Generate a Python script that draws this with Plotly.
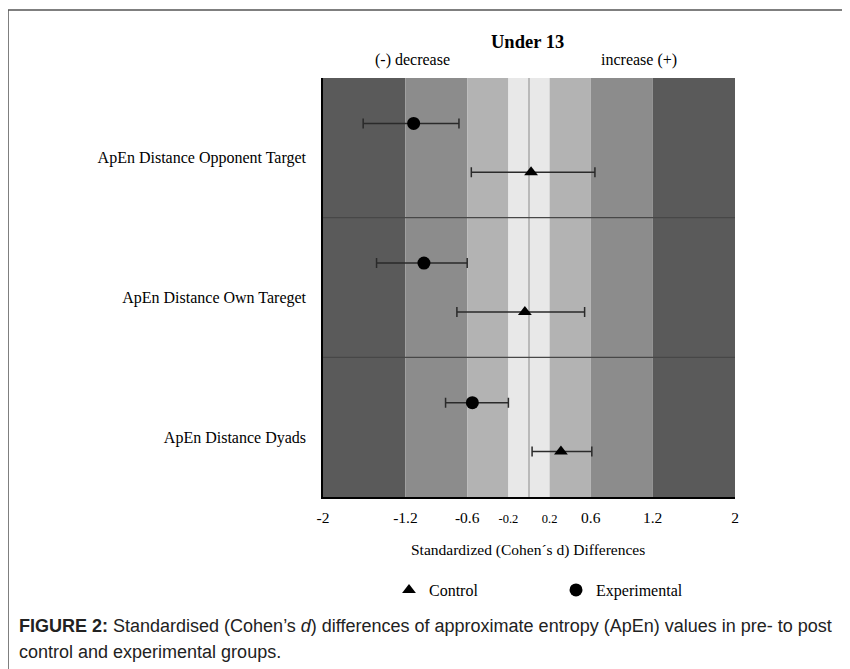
import plotly.graph_objects as go

# outcome rows (top to bottom)
outcomes = ["ApEn Distance Opponent Target", "ApEn Distance Own Tareget", "ApEn Distance Dyads"]

# Cohen's d with lower / upper limits
exp_d = [-1.12, -1.02, -0.55]
exp_lo = [-1.61, -1.48, -0.81]
exp_hi = [-0.68, -0.60, -0.20]

ctrl_d = [0.02, -0.04, 0.31]
ctrl_lo = [-0.56, -0.70, 0.03]
ctrl_hi = [0.64, 0.54, 0.61]

# effect size zones
zone_edges = [-2, -1.2, -0.6, -0.2, 0.2, 0.6, 1.2, 2]
zone_colors = ["#5a5a5a", "#8c8c8c", "#b3b3b3", "#e8e8e8", "#b3b3b3", "#8c8c8c", "#5a5a5a"]
tick_vals = [-2, -1.2, -0.6, -0.2, 0.2, 0.6, 1.2, 2]

SERIF = "Liberation Serif, Times New Roman, serif"
SANS = "Liberation Sans, Arial, sans-serif"

rows = list(range(len(outcomes)))
off = 0.175

# page is drawn with an 8px body offset; plot area spans x 323-735, y 78-497 on screen
L, T, PW, PH = 315, 70, 412, 419


def px(x):
    return (x - 323) / PW


def py(y):
    return (497 - y) / PH


fig = go.Figure()

fig.add_trace(go.Scatter(
    x=ctrl_d, y=[r + off for r in rows], mode="markers", name="Control",
    marker=dict(symbol="triangle-up", size=12, color="black"),
    error_x=dict(type="data", symmetric=False,
                 array=[h - d for h, d in zip(ctrl_hi, ctrl_d)],
                 arrayminus=[d - l for d, l in zip(ctrl_d, ctrl_lo)],
                 color="#2a2a2a", thickness=1.5, width=5),
))
fig.add_trace(go.Scatter(
    x=exp_d, y=[r - off for r in rows], mode="markers", name="Experimental",
    marker=dict(symbol="circle", size=13, color="black"),
    error_x=dict(type="data", symmetric=False,
                 array=[h - d for h, d in zip(exp_hi, exp_d)],
                 arrayminus=[d - l for d, l in zip(exp_d, exp_lo)],
                 color="#2a2a2a", thickness=1.5, width=5),
))

shapes = []
for i, c in enumerate(zone_colors):
    shapes.append(dict(type="rect", xref="x", yref="paper", x0=zone_edges[i], x1=zone_edges[i + 1],
                       y0=0, y1=1, fillcolor=c, line=dict(width=0), layer="below"))
shapes.append(dict(type="line", xref="x", yref="paper", x0=0, x1=0, y0=0, y1=1,
                   line=dict(color="#8a8a8a", width=1), layer="below"))
for b in [0.5, 1.5]:
    shapes.append(dict(type="line", xref="paper", yref="y", x0=0, x1=1, y0=b, y1=b,
                       line=dict(color="#474747", width=1.2), layer="below"))
# outer figure frame (open to the right and bottom)
shapes.append(dict(type="rect", xref="paper", yref="paper", x0=px(8), x1=px(870), y0=py(10), y1=py(690),
                   line=dict(color="#555555", width=1.5)))

tick_text = []
for v in tick_vals:
    s = f"{v:g}"
    if abs(v) == 0.2:
        tick_text.append(f"<span style='font-size:12.5px'>{s}</span>")
    else:
        tick_text.append(s)

annotations = [
    dict(text="<b>Under 13</b>", x=px(527), y=py(42), yanchor="middle",
         font=dict(family=SERIF, size=18.5, color="black")),
    dict(text="(-) decrease", x=px(373), y=py(60), yanchor="middle",
         font=dict(family=SERIF, size=16, color="black")),
    dict(text="increase (+)", x=px(679), y=py(60), yanchor="middle",
         font=dict(family=SERIF, size=16, color="black")),
    dict(text="Standardized (Cohen´s d) Differences", x=px(528), y=py(550), yanchor="middle",
         font=dict(family=SERIF, size=15.5, color="black")),
    dict(text="<b>FIGURE 2:</b> Standardised (Cohen’s <i>d</i>) differences of approximate entropy (ApEn) values in pre- to post",
         x=px(17), y=py(626), xanchor="left", yanchor="middle",
         font=dict(family=SANS, size=18, color="#222222")),
    dict(text="control and experimental groups.",
         x=px(17), y=py(652), xanchor="left", yanchor="middle",
         font=dict(family=SANS, size=18, color="#222222")),
]
for a in annotations:
    a.update(xref="paper", yref="paper", showarrow=False)

fig.update_layout(
    width=850, height=669,
    margin=dict(l=L, r=850 - L - PW, t=T, b=669 - T - PH),
    paper_bgcolor="white", plot_bgcolor="white",
    font=dict(family=SERIF, color="black"),
    shapes=shapes,
    annotations=annotations,
    showlegend=True,
    legend=dict(orientation="h", x=px(389), xanchor="left", y=py(590), yanchor="middle",
                font=dict(family=SERIF, size=16, color="black"), entrywidth=122, entrywidthmode="pixels",
                bgcolor="rgba(0,0,0,0)"),
    xaxis=dict(range=[-2, 2], tickvals=tick_vals, ticktext=tick_text, showgrid=False, zeroline=False,
               showline=True, linecolor="black", linewidth=1.5, ticks="",
               tickfont=dict(family=SERIF, size=15.5, color="black"), ticklabelstandoff=6),
    yaxis=dict(range=[2.5, -0.5], tickvals=[r + 0.07 for r in rows], ticktext=outcomes, showgrid=False,
               zeroline=False, showline=True, linecolor="black", linewidth=1.5, ticks="",
               tickfont=dict(family=SERIF, size=16, color="black"), ticklabelstandoff=12),
)

fig.write_html("out.html")
